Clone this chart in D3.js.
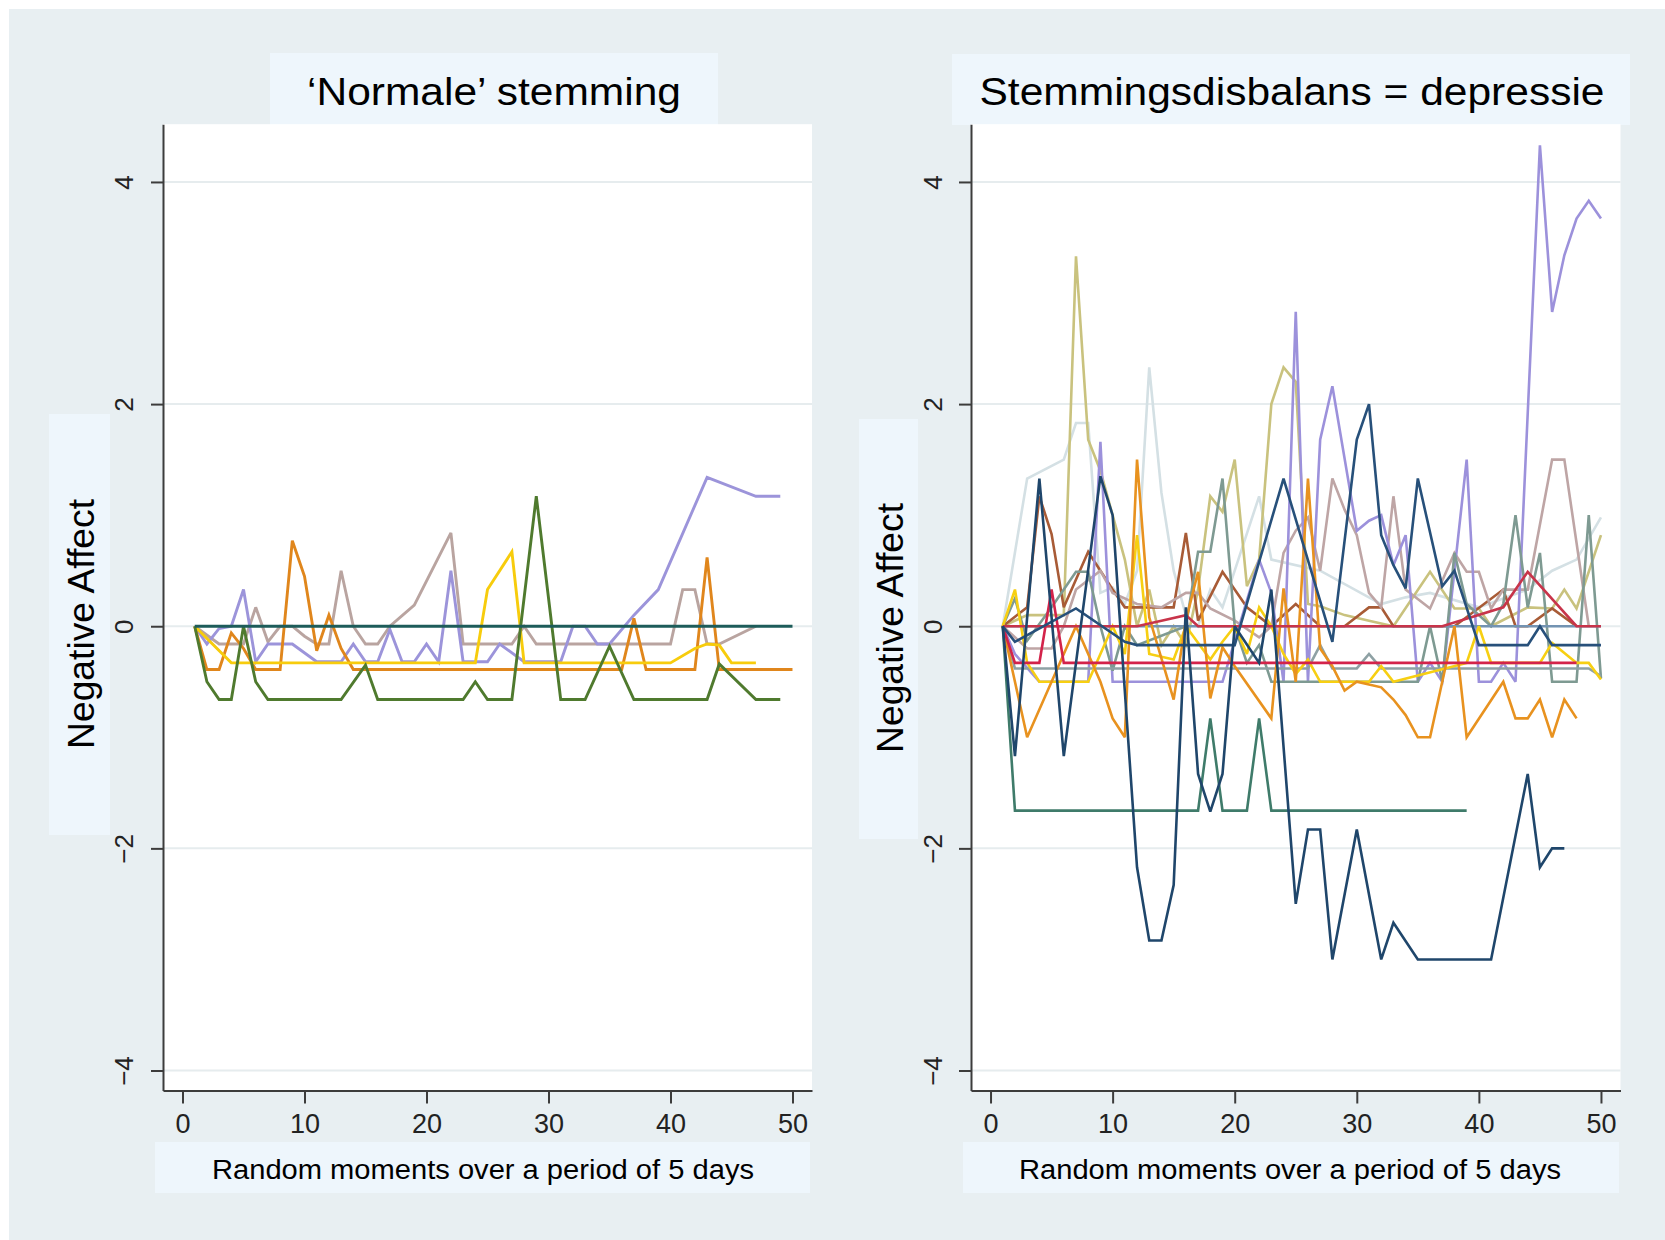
<!DOCTYPE html>
<html><head><meta charset="utf-8">
<script src="https://cdn.jsdelivr.net/npm/d3@7"></script>
<style>
html,body{margin:0;padding:0;background:#fff;}
svg{display:block;font-family:"Liberation Sans",Arial,Helvetica,sans-serif;}
</style></head><body>
<svg id="chart" width="1665" height="1240"></svg>
<script>
// ---------- DATA ----------
const xTicks = [0, 10, 20, 30, 40, 50];
const yTicks = [-4, -2, 0, 2, 4];
const panelTitles = ["\u2018Normale\u2019 stemming", "Stemmingsdisbalans = depressie"];
const xAxisTitle = "Random moments over a period of 5 days";
const yAxisTitle = "Negative Affect";

// Left panel: 'Normale' stemming  ([moment, negative affect])
const normTaupe  = [[1,0],[3,-0.16],[5,-0.16],[6,0.17],[7,-0.14],[8,0],[9,0],[10,-0.09],[11,-0.16],[12,-0.16],[13,0.5],[14,0],[15,-0.16],[16,-0.16],[17,0],[19,0.19],[22,0.84],[23,-0.16],[27,-0.16],[28,0],[29,-0.16],[40,-0.16],[41,0.33],[42,0.33],[43,-0.16],[44,-0.16],[47,0]];
const normPurple = [[1,0],[2,-0.16],[3,-0.02],[4,0],[5,0.33],[6,-0.32],[7,-0.16],[9,-0.16],[11,-0.32],[13,-0.32],[14,-0.16],[15,-0.32],[16,-0.32],[17,-0.03],[18,-0.32],[19,-0.32],[20,-0.16],[21,-0.32],[22,0.5],[23,-0.32],[25,-0.32],[26,-0.16],[28,-0.32],[31,-0.32],[32,0],[33,0],[34,-0.16],[35,-0.16],[37,0.1],[39,0.33],[43,1.34],[47,1.17],[49,1.17]];
const normOrange = [[1,0],[2,-0.39],[3,-0.39],[4,-0.06],[5,-0.2],[6,-0.39],[8,-0.39],[9,0.77],[10,0.45],[11,-0.22],[12,0.1],[13,-0.2],[14,-0.39],[36,-0.39],[37,0.07],[38,-0.39],[42,-0.39],[43,0.62],[44,-0.39],[50,-0.39]];
const normYellow = [[1,0],[4,-0.33],[24,-0.33],[25,0.33],[27,0.67],[28,-0.33],[40,-0.33],[42,-0.2],[43,-0.16],[44,-0.17],[45,-0.33],[47,-0.33]];
const normGreen  = [[1,0],[2,-0.5],[3,-0.66],[4,-0.66],[5,0],[6,-0.5],[7,-0.66],[13,-0.66],[15,-0.35],[16,-0.66],[23,-0.66],[24,-0.5],[25,-0.66],[27,-0.66],[29,1.17],[31,-0.66],[33,-0.66],[35,-0.18],[37,-0.66],[43,-0.66],[44,-0.34],[47,-0.66],[49,-0.66]];
const normTeal   = [[1,0],[50,0]];

// Right panel: Stemmingsdisbalans = depressie
const depLight    = [[1,0],[3,1.33],[6,1.5],[7,1.83],[8,1.83],[9,0.3],[10,0.35],[11,0.2],[12,0.5],[13,2.33],[14,1.2],[15,0.5],[16,0.1],[17,0],[18,0.33],[19,0.17],[20,0.5],[22,1.17],[23,0.6],[27,0.5],[32,0.2],[34,0.26],[36,0.3],[40,0.17],[44,0.33],[46,0.5],[48,0.6],[50,0.98]];
const depKhaki    = [[1,0],[3,0.1],[6,0.1],[7,3.33],[8,1.68],[9,1.4],[10,1.0],[11,0.6],[12,0],[13,0.33],[14,-0.17],[15,0],[16,-0.17],[17,0.33],[18,1.17],[19,1.03],[20,1.5],[21,0.36],[22,0.6],[23,2.0],[24,2.33],[25,2.2],[26,0.2],[27,0.18],[29,0.1],[31,0.05],[33,0],[36,0.49],[38,0.16],[40,0.16],[41,0],[44,0.17],[46,0.16],[47,0.33],[48,0.16],[50,0.82]];
const depBrown    = [[1,0],[3,0.17],[4,1.17],[5,0.83],[6,0.17],[8,0.67],[9,0.5],[10,0.33],[11,0.17],[15,0.17],[16,0.84],[17,0.05],[19,0.49],[21,0.17],[23,0],[25,0.2],[27,0],[29,0],[31,0.17],[32,0.17],[33,0],[38,0],[42,0.33],[43,0],[44,0],[46,0.16],[48,0]];
const depMauve    = [[1,0],[3,-0.2],[5,-0.2],[6,0],[7,0.33],[9,0.5],[10,0.3],[12,0.2],[14,0.17],[16,0.3],[17,0.3],[18,0.16],[20,0.05],[22,-0.1],[23,0],[24,0.66],[25,0.86],[26,0.98],[27,0.5],[28,1.33],[29,1.05],[30,0.82],[31,0.3],[32,0.17],[33,1.17],[34,0.33],[36,0.16],[38,0.66],[39,0.49],[40,0.49],[41,0.16],[42,0.33],[44,0.33],[46,1.5],[47,1.5],[49,0]];
const depPurple   = [[1,0],[2,-0.25],[4,-0.5],[8,-0.5],[9,1.66],[10,-0.5],[19,-0.5],[22,0.6],[23,0.3],[24,-0.5],[25,2.83],[26,-0.5],[27,1.68],[28,2.16],[30,0.86],[31,0.95],[32,1.0],[33,0.55],[34,0.82],[35,-0.5],[36,-0.33],[37,-0.5],[39,1.5],[40,-0.5],[41,-0.5],[42,-0.33],[43,-0.5],[45,4.33],[46,2.83],[47,3.34],[48,3.67],[49,3.83],[50,3.67]];
const depGrayGreen= [[1,0],[2,0.25],[3,-0.13],[5,0.17],[7,0.49],[8,0.49],[9,0],[10,-0.4],[11,0],[12,-0.17],[16,0],[17,0.67],[18,0.67],[19,1.33],[20,0],[21,-0.33],[22,-0.17],[23,-0.5],[35,-0.5],[36,0],[37,-0.5],[38,0.66],[39,0.2],[41,0],[42,0.2],[43,1.0],[44,0.17],[45,0.66],[46,-0.5],[48,-0.5],[49,1.0],[50,-0.47]];
const depSlate    = [[1,0],[2,-0.38],[26,-0.38],[27,-0.17],[28,-0.38],[30,-0.38],[31,-0.25],[32,-0.38],[49,-0.38],[50,-0.45]];
const depSteel    = [[1,0],[50,0]];
const depYellow   = [[1,0],[2,0.33],[3,-0.33],[4,-0.5],[8,-0.5],[9,-0.25],[10,0],[11,-0.25],[12,0.82],[13,-0.25],[15,-0.3],[16,0],[18,-0.3],[19,-0.14],[20,0],[21,-0.25],[22,0.17],[23,0],[24,-0.25],[25,-0.43],[26,-0.3],[27,-0.5],[31,-0.5],[32,-0.36],[33,-0.5],[39,-0.33],[40,0],[41,-0.33],[45,-0.33],[46,-0.15],[48,-0.33],[49,-0.33],[50,-0.48]];
const depOrange   = [[1,0],[2,-0.5],[3,-1.0],[5,-0.5],[7,0],[9,-0.5],[10,-0.83],[11,-1.0],[12,1.5],[13,0.08],[15,-0.66],[16,0.05],[17,0.49],[18,-0.65],[19,-0.19],[20,-0.36],[23,-0.83],[24,0.34],[25,-0.5],[26,1.33],[27,-0.2],[28,-0.36],[29,-0.58],[30,-0.5],[32,-0.55],[33,-0.66],[34,-0.8],[35,-1.0],[36,-1.0],[38,0],[39,-1.0],[42,-0.5],[43,-0.83],[44,-0.83],[45,-0.66],[46,-1.0],[47,-0.66],[48,-0.83]];
const depRed2     = [[1,0],[12,0],[14,0.05],[16,0.1],[17,0],[37,0],[42,0.17],[44,0.49],[48,0],[50,0]];
const depRed      = [[1,0],[2,-0.33],[4,-0.33],[5,0.33],[6,-0.33],[48,-0.33]];
const depTealGreen= [[1,0],[2,-1.66],[17,-1.66],[18,-0.83],[19,-1.66],[21,-1.66],[22,-0.83],[23,-1.66],[39,-1.66]];
const depNavyHigh = [[1,0],[2,-0.14],[7,0.16],[11,-0.14],[12,-0.17],[20,-0.17],[24,1.33],[28,-0.14],[30,1.68],[31,2.0],[32,0.82],[33,0.55],[34,0.34],[35,1.33],[37,0.36],[38,0.5],[40,-0.17],[44,-0.17],[45,0],[46,-0.17],[50,-0.17]];
const depNavyDeep = [[1,0],[2,-1.17],[4,1.33],[6,-1.17],[9,1.35],[10,1.0],[12,-2.17],[13,-2.83],[14,-2.83],[15,-2.33],[16,0.17],[17,-1.33],[18,-1.67],[19,-1.33],[20,0],[22,-0.33],[23,0.33],[25,-2.5],[26,-1.83],[27,-1.83],[28,-3.0],[30,-1.83],[32,-3.0],[33,-2.67],[35,-3.0],[41,-3.0],[44,-1.33],[45,-2.17],[46,-2.0],[47,-2.0]];

// ---------- STYLE ----------
const leftSeries = [
  {data: normTaupe,  color: "#b9a4a0"},
  {data: normPurple, color: "#9c94da"},
  {data: normOrange, color: "#e0861c"},
  {data: normYellow, color: "#f7cc0c"},
  {data: normGreen,  color: "#4f7a2e"},
  {data: normTeal,   color: "#1d5c5a"}
];
const rightSeries = [
  {data: depLight,     color: "#d4e0e4"},
  {data: depKhaki,     color: "#c9c27e"},
  {data: depBrown,     color: "#a85b36"},
  {data: depMauve,     color: "#bea5a5"},
  {data: depPurple,    color: "#9c91db"},
  {data: depGrayGreen, color: "#7e9a92"},
  {data: depSlate,     color: "#8ea1a4"},
  {data: depSteel,     color: "#7393b2"},
  {data: depYellow,    color: "#f7cf12"},
  {data: depOrange,    color: "#e8921f"},
  {data: depRed2,      color: "#c8344a"},
  {data: depRed,       color: "#d3234a"},
  {data: depTealGreen, color: "#3f7b6a"},
  {data: depNavyHigh,  color: "#27507a"},
  {data: depNavyDeep,  color: "#1f466b"}
];

const panels = [
  {title: panelTitles[0], series: leftSeries, x0: 163, x1: 812,
   titleBox: [270, 53, 448, 72], titleX: 494, titleLen: 374,
   yBox: [49, 414, 61, 421], yLabX: 94, yLabY: 624, yTickX: 133,
   xBox: [155, 1142, 655, 51], xLabX: 483, lw: 2.9},
  {title: panelTitles[1], series: rightSeries, x0: 971, x1: 1620.5,
   titleBox: [952, 54, 678, 71], titleX: 1292, titleLen: 625,
   yBox: [859, 419, 59, 420], yLabX: 903, yLabY: 628, yTickX: 942,
   xBox: [963, 1142, 656, 51], xLabX: 1290, lw: 2.6}
];

const plotTop = 124.2, plotBottom = 1090.5;

const svg = d3.select("#chart");
svg.append("rect").attr("x", 9).attr("y", 9).attr("width", 1656).attr("height", 1231).attr("fill", "#e8eff2");

panels.forEach(p => {
  const x = d3.scaleLinear().domain([-1.6, 51.6]).range([p.x0, p.x1]);
  const y = d3.scaleLinear().domain([-4.18, 4.52]).range([plotBottom, plotTop]);
  const g = svg.append("g");

  // boxes
  g.append("rect").attr("x", p.titleBox[0]).attr("y", p.titleBox[1]).attr("width", p.titleBox[2]).attr("height", p.titleBox[3]).attr("fill", "#eef6fc");
  g.append("rect").attr("x", p.yBox[0]).attr("y", p.yBox[1]).attr("width", p.yBox[2]).attr("height", p.yBox[3]).attr("fill", "#eef6fc");
  g.append("rect").attr("x", p.xBox[0]).attr("y", p.xBox[1]).attr("width", p.xBox[2]).attr("height", p.xBox[3]).attr("fill", "#eef6fc");
  // plot area
  g.append("rect").attr("x", p.x0).attr("y", plotTop).attr("width", p.x1 - p.x0).attr("height", plotBottom - plotTop).attr("fill", "#ffffff");

  // grid
  g.selectAll(".grid").data(yTicks).enter().append("line")
    .attr("x1", p.x0).attr("x2", p.x1)
    .attr("y1", d => y(d)).attr("y2", d => y(d))
    .attr("stroke", "#e6ecee").attr("stroke-width", 2);

  // lines
  const line = d3.line().x(d => x(d[0])).y(d => y(d[1]));
  p.series.forEach(s => {
    g.append("path").datum(s.data).attr("d", line)
      .attr("fill", "none").attr("stroke", s.color)
      .attr("stroke-width", p.lw).attr("stroke-linejoin", "miter").attr("stroke-miterlimit", 3);
  });

  // y axis
  const ya = g.append("g").attr("transform", `translate(${p.x0},0)`)
    .call(d3.axisLeft(y).tickValues(yTicks).tickSize(12).tickSizeOuter(0).tickFormat(d3.format("d")));
  ya.select(".domain").attr("stroke", "#3c3c3c").attr("stroke-width", 2);
  ya.selectAll(".tick line").attr("stroke", "#3c3c3c").attr("stroke-width", 2);
  ya.selectAll(".tick text")
    .attr("x", null).attr("dy", null)
    .attr("transform", `translate(${p.yTickX - p.x0},0) rotate(-90)`)
    .attr("text-anchor", "middle")
    .attr("font-size", 26).attr("font-family", "Liberation Sans, Arial, sans-serif").attr("fill", "#222");

  // x axis
  const xa = g.append("g").attr("transform", `translate(0,${plotBottom})`)
    .call(d3.axisBottom(x).tickValues(xTicks).tickSize(13).tickSizeOuter(0));
  xa.select(".domain").attr("stroke", "#3c3c3c").attr("stroke-width", 2);
  xa.selectAll(".tick line").attr("stroke", "#3c3c3c").attr("stroke-width", 2);
  xa.selectAll(".tick text").attr("y", 42).attr("dy", null)
    .attr("font-size", 27).attr("font-family", "Liberation Sans, Arial, sans-serif").attr("fill", "#222");

  // titles
  g.append("text").attr("x", p.titleX).attr("y", 105).attr("text-anchor", "middle")
    .attr("font-size", 38).attr("fill", "#000")
    .attr("textLength", p.titleLen).attr("lengthAdjust", "spacingAndGlyphs").text(p.title);
  g.append("text").attr("x", p.xLabX).attr("y", 1179).attr("text-anchor", "middle")
    .attr("font-size", 27).attr("fill", "#000")
    .attr("textLength", 542).attr("lengthAdjust", "spacingAndGlyphs").text(xAxisTitle);
  g.append("text").attr("transform", `translate(${p.yLabX},${p.yLabY}) rotate(-90)`)
    .attr("text-anchor", "middle").attr("font-size", 37).attr("fill", "#000")
    .attr("textLength", 250).attr("lengthAdjust", "spacingAndGlyphs").text(yAxisTitle);
});
</script>
</body></html>
